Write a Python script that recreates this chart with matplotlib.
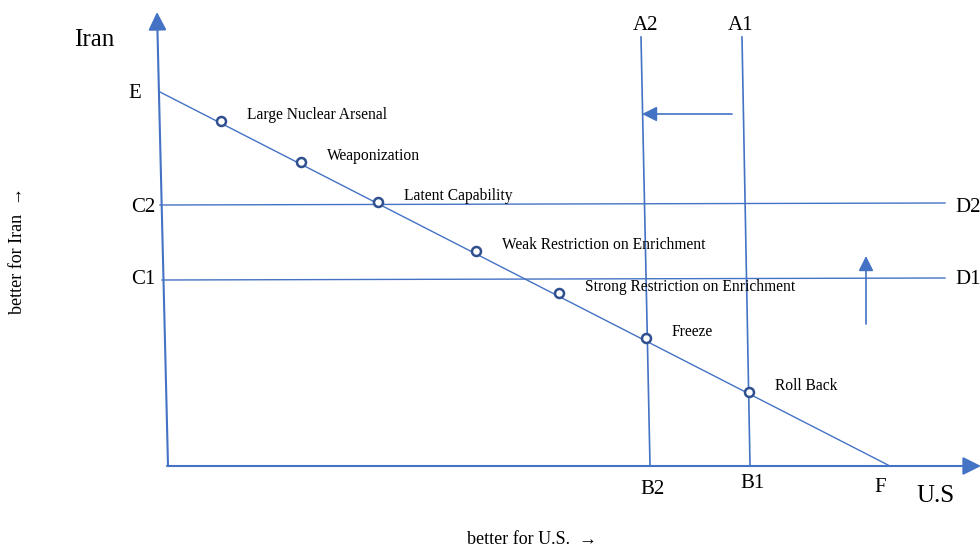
import matplotlib.pyplot as plt

plt.rcParams['font.family'] = ['Liberation Serif', 'DejaVu Serif']

# outcomes along the E-F line (pixel space of the diagram, y downwards)
outcomes = ["Large Nuclear Arsenal", "Weaponization", "Latent Capability",
            "Weak Restriction on Enrichment", "Strong Restriction on Enrichment",
            "Freeze", "Roll Back"]
pt_x = [221, 301, 378, 476, 559, 646, 749]
pt_y = [121, 162, 202, 251, 293, 338, 392]

blue = "#4472c4"
navy = "#2f4f8f"

fig = plt.figure(figsize=(9.8, 5.48), dpi=100)
ax = fig.add_axes([0, 0, 1, 1])
ax.set_xlim(0, 980)
ax.set_ylim(548, 0)
ax.axis("off")

head = "-|>,head_length=1.1,head_width=0.55"

# axes with arrows
ax.annotate("", xy=(157, 12), xytext=(168, 466), annotation_clip=False,
            arrowprops=dict(arrowstyle=head, color=blue, lw=1.5, shrinkA=0, shrinkB=0))
ax.annotate("", xy=(981, 466), xytext=(167, 466), annotation_clip=False,
            arrowprops=dict(arrowstyle=head, color=blue, lw=1.5, shrinkA=0, shrinkB=0))

# E-F line
ax.plot([160, 888], [92, 465], color=blue, lw=1)
# C1-D1 and C2-D2
ax.plot([160, 945], [205, 203], color=blue, lw=1)
ax.plot([162, 945], [280, 278], color=blue, lw=1)
# A-B verticals
ax.plot([641, 650], [37, 465], color=blue, lw=1.2)
ax.plot([742, 750], [37, 465], color=blue, lw=1.2)

# shift arrows
ax.annotate("", xy=(642, 114), xytext=(732, 114),
            arrowprops=dict(arrowstyle="-|>,head_length=0.9,head_width=0.45", color=blue, lw=1.2,
                            shrinkA=0, shrinkB=0))
ax.annotate("", xy=(866, 256), xytext=(866, 324),
            arrowprops=dict(arrowstyle="-|>,head_length=0.9,head_width=0.45", color=blue, lw=1.2,
                            shrinkA=0, shrinkB=0))

# outcome points and labels
ax.scatter(pt_x, pt_y, s=42, facecolor="white", edgecolor=navy, linewidth=1.8, zorder=5)
for name, x, y in zip(outcomes, pt_x, pt_y):
    ax.text(x + 26, y - 6, name, fontsize=11.2, ha="left", va="center")

# letters
big = dict(fontsize=15, ha="center", va="center")
ax.text(94, 40, "Iran", fontsize=18, ha="center", va="center")
ax.text(135, 94, "E", **big)
ax.text(143, 207, "C2", **big)
ax.text(143, 280, "C1", **big)
ax.text(646, 25, "A2", **big)
ax.text(741, 25, "A1", **big)
ax.text(968, 207, "D2", **big)
ax.text(968, 280, "D1", **big)
ax.text(652, 489, "B2", **big)
ax.text(752, 484, "B1", **big)
ax.text(880, 487, "F", **big)
ax.text(936, 496, "U.S", fontsize=18, ha="center", va="center")

ax.text(18, 250, "better for Iran  \u2192", fontsize=13, rotation=90, ha="center", va="center")
ax.text(532, 540, "better for U.S.  \u2192", fontsize=13, ha="center", va="center")

fig.savefig("out.png", dpi=100)
